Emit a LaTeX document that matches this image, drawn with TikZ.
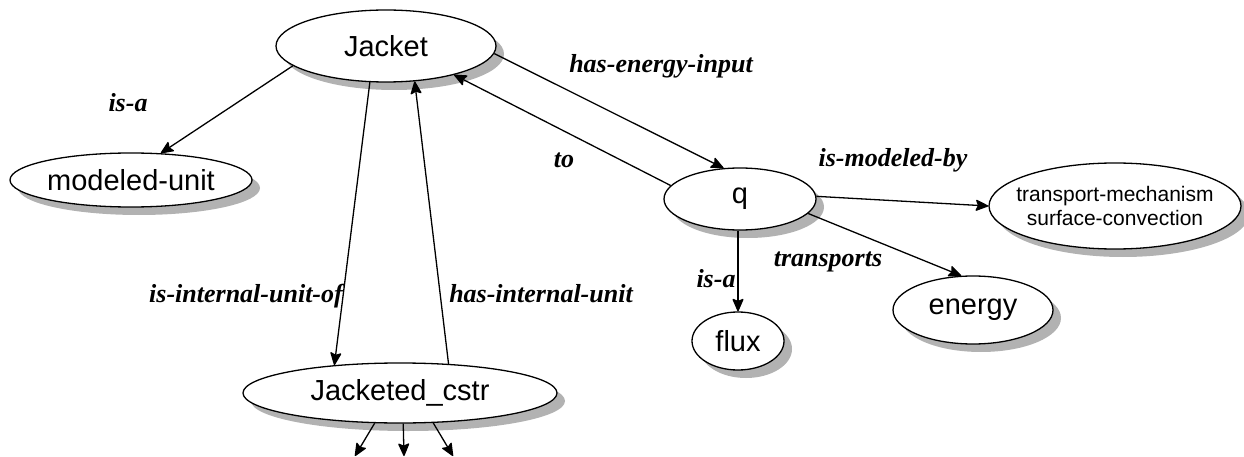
\documentclass[tikz,border=0pt]{standalone}
\usepackage{fontspec}
\setmainfont{Liberation Sans}
\newfontfamily\lblserif{Liberation Serif}
\usetikzlibrary{arrows.meta,shadows,shapes.geometric}
\tikzset{
  ent/.style={ellipse, draw=black, line width=1.3pt, fill=white, inner sep=0pt,
    drop shadow={shadow xshift=8pt, shadow yshift=-8pt, fill=gray!60, opacity=1, draw=none},
    font=\fontsize{29}{34}\selectfont},
  rel/.style={anchor=base, inner sep=0pt, font=\lblserif\fontsize{26}{29}\selectfont\bfseries\itshape},
  conn/.style={line width=1.3pt, arrows={-Stealth[length=14pt,width=12pt,inset=2.5pt,round]}},
}
\begin{document}
\begin{tikzpicture}[x=1pt,y=-1pt]
\useasboundingbox (0,0) rectangle (1244,457);
% nodes
\node[ent, minimum width=220pt, minimum height=72pt] (jacket) at (386,46) {Jacket};
\node[ent, minimum width=242pt, minimum height=54pt] (unit) at (131,180) {modeled-unit};
\node[ent, minimum width=152pt, minimum height=62pt] (q) at (740,199) {q};
\node[ent, minimum width=252pt, minimum height=86pt, inner xsep=-20pt, align=center,
  font=\fontsize{21}{24}\selectfont] (tm) at (1115,206) {transport-mechanism\\surface-convection};
\node[ent, minimum width=160pt, minimum height=68pt] (energy) at (973,310) {energy};
\node[ent, minimum width=92pt, minimum height=58pt] (flux) at (738,341) {flux};
\node[ent, minimum width=314pt, minimum height=60pt] (cstr) at (400,393) {Jacketed\_cstr};
% free ends
\coordinate (d1) at (355,456);
\coordinate (d2) at (404,456);
\coordinate (d3) at (453,456);
% connectors
\draw[conn] (jacket.-168) -- (unit.42);
\draw[conn] (jacket.-114) -- (cstr.157);
\draw[conn] (cstr.31) -- (jacket.-51);
\draw[conn] (jacket.-4) -- (q.118);
\draw[conn] (q.169) -- (jacket.-23);
\draw[conn] (q.2) -- (tm.180);
\draw[conn] (q.-12) -- (energy.109);
\draw[conn] (q.south -| flux.north) -- (flux.north);
\draw[conn] (cstr.-130) -- (d1);
\draw[conn] (cstr.-84) -- (d2);
\draw[conn] (cstr.-42) -- (d3);
% labels
\node[rel] (l1) at (128,112) {is-a};
\node[rel] (l2) at (661,73) {has-energy-input};
\node[rel] (l3) at (564,168) {to};
\node[rel] (l4) at (893,167) {is-modeled-by};
\node[rel] (l5) at (828,266) {transports};
\node[rel] (l6) at (716,287) {is-a};
\node[rel] (l7) at (246,302) {is-internal-unit-of};
\node[rel] (l8) at (541,302) {has-internal-unit};
\end{tikzpicture}
\end{document}
